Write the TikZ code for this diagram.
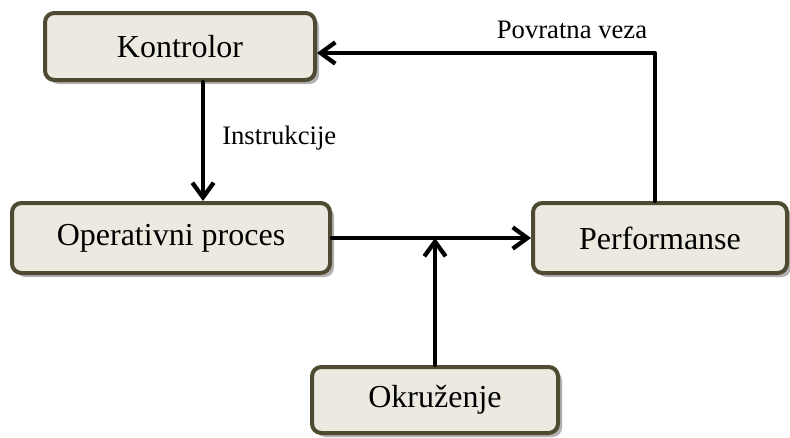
\documentclass[tikz,border=0pt]{standalone}
\usepackage{fontspec}
\setmainfont{Liberation Serif}
\usetikzlibrary{arrows.meta,shadows,calc}
\definecolor{boxfill}{HTML}{ECEAE0}
\definecolor{boxdraw}{HTML}{4F4A32}
\begin{document}
\begin{tikzpicture}[x=0.75pt,y=-0.75pt,>={Straight Barb[length=11pt,width=16pt]}, line join=round, line cap=round,
	box/.style={draw=boxdraw,fill=boxfill,line width=3pt,rounded corners=7pt,inner sep=0pt,
		drop shadow={shadow xshift=3pt,shadow yshift=-3pt,fill=gray!60,opacity=1},font=\fontsize{24}{28}\selectfont},
	lbl/.style={font=\fontsize{20}{24}\selectfont,inner sep=0pt},
	veza/.style={->,line width=3.2pt}]
	\useasboundingbox (0,0) rectangle (790,437);
	% blokovi
	\node[box,minimum width=270*0.75pt,minimum height=67*0.75pt] (kontrolor) at (180,46.5) {Kontrolor};
	\node[box,minimum width=318*0.75pt,minimum height=70*0.75pt] (oper) at (171,238) {Operativni proces};
	\node[box,minimum width=254*0.75pt,minimum height=70*0.75pt] (perf) at (660,238) {Performanse};
	\node[box,minimum width=246*0.75pt,minimum height=66*0.75pt] (okr) at (435,400) {Okruženje};
	% veze
	\draw[veza] ($(kontrolor.south)+(23,0)$) coordinate (ins) -- (ins |- oper.north);
	\node[lbl,anchor=west] (instr) at (222,138) {Instrukcije};
	\draw[veza] (oper.east) -- (perf.west);
	\draw[veza] (okr.north) -- (okr.north |- oper.east);
	\draw[veza] ($(perf.north)+(-5,0)$) |- ($(kontrolor.east)+(0,6.5)$);
	\node[lbl] (povr) at (572,30) {Povratna veza};
\end{tikzpicture}
\end{document}
